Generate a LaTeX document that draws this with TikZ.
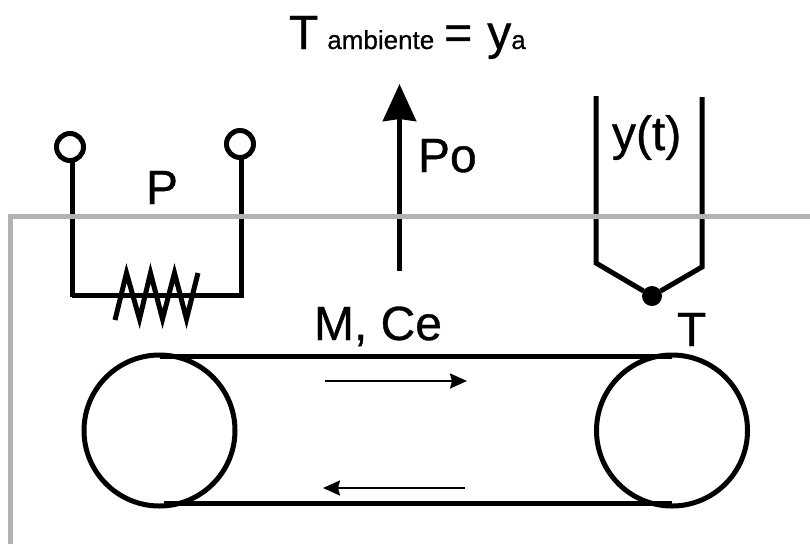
\documentclass[tikz,border=0pt]{standalone}
\usepackage{fontspec}
\setmainfont{Liberation Sans}[RawFeature={embolden=0.7}]
\usetikzlibrary{arrows.meta, positioning}
\tikzstyle{label} = [inner sep=0pt, outer sep=0pt, anchor=base west, font=\fontsize{48}{48}\selectfont]
\tikzstyle{wire} = [line width=5pt, black]
\tikzstyle{terminal} = [circle, draw, line width=5pt, minimum size=27pt, inner sep=0pt, outer sep=0pt]
\tikzstyle{roll} = [circle, draw, line width=5pt, minimum size=151pt, inner sep=0pt, outer sep=0pt]
\tikzstyle{probe} = [circle, fill=black, minimum size=20pt, inner sep=0pt, outer sep=0pt]
\tikzstyle{wall} = [line width=5pt, color=black!30]
\tikzstyle{flow} = [line width=2.2pt, -{Stealth[length=17pt, width=15pt, inset=2pt]}]
\tikzstyle{loss} = [line width=5pt, -{Stealth[length=37pt, width=33pt, inset=2pt]}]

\begin{document}
\begin{tikzpicture}[x=1pt, y=-1pt]
    \useasboundingbox (0,0) rectangle (810,544);
    % texts
    \node[label] (ambient) at (289,49) {T\hspace{9pt}{\fontsize{26}{26}\selectfont ambiente}\hspace{10pt}=\hspace{15pt}y{\fontsize{26}{26}\selectfont a}};
    \node[label] (power) at (146,204) {P};
    \node[label] (loss) at (418,172) {Po};
    \node[label] (sensor) at (612,150) {y(t)};
    \node[label] (temp) at (677,346) {T};
    \node[label] (mass) at (314,340) {M, Ce};
    % heater
    \node[terminal] (termL) at (70,147) {};
    \node[terminal] (termR) at (240,144) {};
    \coordinate (cornerL) at (72,295);
    \coordinate (cornerR) at (244,295);
    \draw[wire] ([xshift=2pt]termL.south) -- (72,297);
    \draw[wire] ([xshift=1.5pt]termR.south) -- (241.5,293);
    \draw[wire] (cornerL) -- (cornerR);
    \draw[wire] (115,320) -- (126.5,273) -- (139.5,319) -- (150.5,273) -- (162.5,319) -- (174.5,273) -- (186.5,319) -- (198,273);
    % heat loss
    \coordinate (lossA) at (399.5,271);
    \coordinate (lossB) at (399.5,84);
    \draw[loss] (lossA) -- (lossB);
    % thermocouple
    \node[probe] (dot) at (652,296) {};
    \coordinate (probeL) at (596,96);
    \coordinate (probeR) at (702,97);
    \draw[wire] (probeL) -- (596,263) -- (dot);
    \draw[wire] (probeR) -- (702,267) -- (dot);
    % belt
    \node[roll] (rollL) at (159.5,430.5) {};
    \node[roll] (rollR) at (672,430.5) {};
    \draw[wire] ([yshift=-1pt]rollL.north) -- ([yshift=-1pt]rollR.north);
    \draw[wire] ([xshift=4pt, yshift=3pt]rollL.south) -- ([yshift=3pt]rollR.south);
    \coordinate (topA) at (325,381);
    \coordinate (topB) at (467,381);
    \coordinate (botA) at (465,488);
    \coordinate (botB) at (323,488);
    \draw[flow] (topA) -- (topB);
    \draw[flow] (botA) -- (botB);
    % wall of the enclosure
    \coordinate (wallA) at (10,544);
    \coordinate (wallB) at (10,216);
    \coordinate (wallC) at (810,216);
    \draw[wall] (wallA) -- (wallB) -- (wallC);
  \end{tikzpicture}
\end{document}
